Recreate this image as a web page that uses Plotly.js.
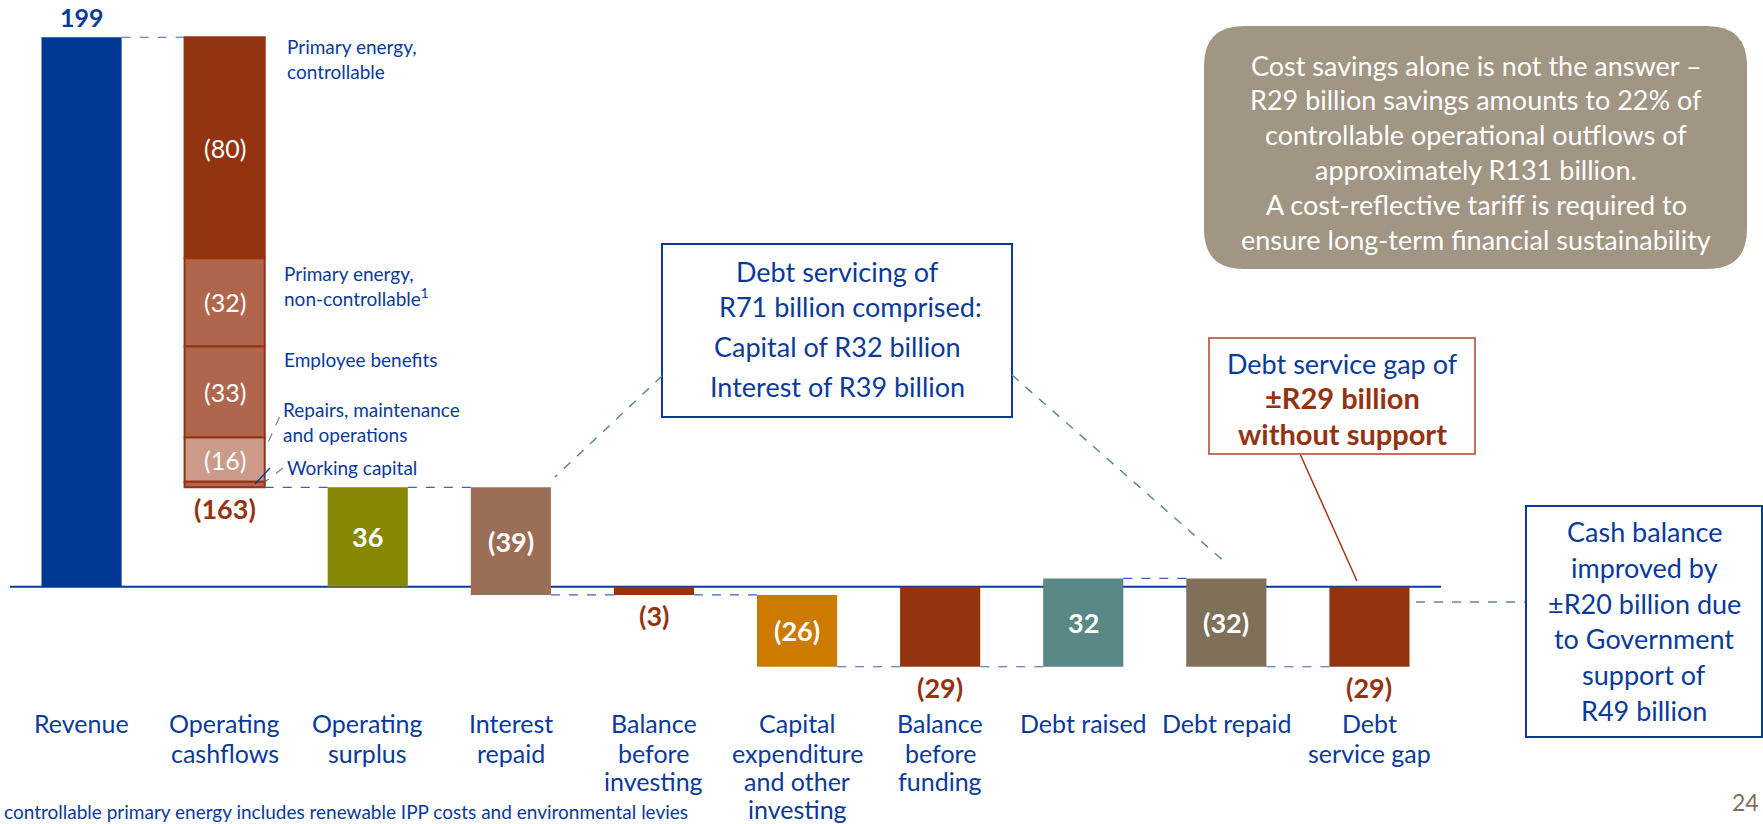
<!DOCTYPE html>
<html>
<head>
<meta charset="utf-8">
<script src="https://cdn.plot.ly/plotly-3.0.1.min.js"></script>
<style>
  html, body { margin: 0; padding: 0; background: #ffffff; }
  #chart { width: 1763px; height: 824px; }
</style>
</head>
<body>
<div id="chart"></div>
<script>
// ---------------- DATA ----------------
const categories = ['Revenue', 'Operating cashflows', 'Operating surplus', 'Interest repaid',
  'Balance before investing', 'Capital expenditure and other investing', 'Balance before funding',
  'Debt raised', 'Debt repaid', 'Debt service gap'];
const tickLabels = ['Revenue', 'Operating<br>cashflows', 'Operating<br>surplus', 'Interest<br>repaid',
  'Balance<br>before<br>investing', 'Capital<br>expenditure<br>and other<br>investing',
  'Balance<br>before<br>funding', 'Debt raised', 'Debt repaid', 'Debt<br>service gap'];
const measures = ['total', 'relative', 'total', 'relative', 'total', 'relative', 'total', 'relative', 'relative', 'total'];
const values = [199, -163, 36, -39, -3, -26, -29, 32, -32, -29];
const valueLabels = ['199', '(163)', '36', '(39)', '(3)', '(26)', '(29)', '32', '(32)', '(29)'];

const opCashComponentNames = ['Primary energy,<br>controllable', 'Primary energy,<br>non-controllable<sup>1</sup>',
  'Employee benefits', 'Repairs, maintenance<br>and operations', 'Working capital'];
const opCashComponents = [-80, -32, -33, -16, -2];
const opCashComponentLabels = ['(80)', '(32)', '(33)', '(16)', ''];

const calloutDebt = ['Debt servicing of', 'R71 billion comprised:', 'Capital of R32 billion', 'Interest of R39 billion'];
const calloutSavings = ['Cost savings alone is not the answer \u2013', 'R29 billion savings amounts to 22% of',
  'controllable operational outflows of', 'approximately R131 billion.', 'A cost-reflective tariff is required to',
  'ensure long-term financial sustainability'];
const calloutGap = ['Debt service gap of', '\u00b1R29 billion', 'without support'];
const calloutCash = ['Cash balance', 'improved by', '\u00b1R20 billion due', 'to Government', 'support of', 'R49 billion'];
const footnote = 'controllable primary energy includes renewable IPP costs and environmental levies';
const pageNumber = '24';

// ---------------- STYLE ----------------
const FONT = "Lato, 'Open Sans', sans-serif";
const BLUE_TXT = '#0B3A9A';
const DARKRED = '#94330F';
const barColors = ['#003893', DARKRED, '#868806', '#9B6E57', DARKRED, '#CC7A00', DARKRED, '#5A8886', '#80705A', DARKRED];
const compColors = [DARKRED, '#B0664D', '#B0664D', '#CB9A88', '#B0664D'];
const labelInside = [false, false, true, true, false, true, false, true, true, false];
const BARW = 0.56;

// plot-area geometry (pixels)
const L = 10, W = 1431, T = 0, H = 700;
const px2x = p => (p - L) / W;
const px2y = p => (T + H - p) / H;

// ---------------- WATERFALL GEOMETRY FROM DATA ----------------
const bases = [], heights = [], ends = [];
let running = 0;
values.forEach((v, i) => {
  if (measures[i] === 'total') { bases.push(0); heights.push(v); running = v; }
  else { bases.push(running); heights.push(v); running += v; }
  ends.push(running);
});

const traces = [];
traces.push({
  type: 'bar', x: categories,
  y: heights.map((h, i) => i === 1 ? null : h),
  base: bases.map((b, i) => i === 1 ? null : b),
  width: BARW, marker: { color: barColors, line: { width: 0 } },
  hoverinfo: 'skip', showlegend: false
});
let compRun = bases[1];
const compBases = [];
opCashComponents.forEach((c, k) => {
  compBases.push(compRun);
  traces.push({
    type: 'bar', x: [categories[1]], y: [c], base: [compRun], width: BARW,
    marker: { color: compColors[k], line: { color: DARKRED, width: 2 } },
    hoverinfo: 'skip', showlegend: false, name: opCashComponentNames[k]
  });
  compRun += c;
});

// ---------------- SHAPES ----------------
const shapes = [];
shapes.push({ type: 'line', xref: 'x', yref: 'y', x0: -0.5, x1: 9.5, y0: 0, y1: 0,
  line: { color: '#0B3A9A', width: 2 }, layer: 'below' });
for (let i = 0; i < values.length - 1; i++) {
  shapes.push({ type: 'line', xref: 'x', yref: 'y', x0: i + BARW / 2, x1: i + 1 - BARW / 2,
    y0: ends[i], y1: ends[i], line: { color: '#3862C2', width: 1.2, dash: 'dash' } });
}
function rectPx(x0, y0, x1, y1, color, width, fill) {
  return { type: 'rect', xref: 'paper', yref: 'paper', x0: px2x(x0), x1: px2x(x1), y0: px2y(y1), y1: px2y(y0),
    line: { color: color, width: width }, fillcolor: fill || 'rgba(0,0,0,0)' };
}
function linePx(x0, y0, x1, y1, color, width, dash) {
  return { type: 'line', xref: 'paper', yref: 'paper', x0: px2x(x0), x1: px2x(x1), y0: px2y(y0), y1: px2y(y1),
    line: { color: color, width: width, dash: dash || 'solid' } };
}
function roundRectPath(x0, y0, x1, y1, r) {
  const X = p => px2x(p).toFixed(5), Y = p => px2y(p).toFixed(5);
  return `M ${X(x0 + r)} ${Y(y0)} L ${X(x1 - r)} ${Y(y0)} Q ${X(x1)} ${Y(y0)} ${X(x1)} ${Y(y0 + r)} ` +
    `L ${X(x1)} ${Y(y1 - r)} Q ${X(x1)} ${Y(y1)} ${X(x1 - r)} ${Y(y1)} L ${X(x0 + r)} ${Y(y1)} ` +
    `Q ${X(x0)} ${Y(y1)} ${X(x0)} ${Y(y1 - r)} L ${X(x0)} ${Y(y0 + r)} Q ${X(x0)} ${Y(y0)} ${X(x0 + r)} ${Y(y0)} Z`;
}
shapes.push({ type: 'path', xref: 'paper', yref: 'paper', path: roundRectPath(1204, 26, 1747, 269, 40),
  fillcolor: '#A19583', line: { width: 0 } });
shapes.push(rectPx(662, 244, 1012, 417, '#0B3A9A', 2));
shapes.push(linePx(662, 376, 555, 477, '#5D8C85', 1.5, 'dash'));
shapes.push(linePx(1012, 375, 1226, 563, '#5D8C85', 1.5, 'dash'));
shapes.push(rectPx(1209, 338, 1475, 454, '#A8432A', 1.5));
shapes.push(linePx(1300.5, 455, 1357, 581, '#A0381A', 1.5));
shapes.push(rectPx(1526, 506, 1762, 737, '#0B3A9A', 2));
shapes.push(linePx(1416, 602, 1525, 602, '#5D8C85', 1.5, 'dash'));
shapes.push(linePx(279.5, 417, 266, 447, '#5D8C85', 1.2, 'dash'));
shapes.push(linePx(283, 468, 265, 482, '#5D8C85', 1.2, 'dash'));
shapes.push(linePx(270, 468, 255, 484, '#0B3A9A', 1.2));

// ---------------- ANNOTATIONS ----------------
const annotations = [];
function txtPx(text, x, y, size, color, opts) {
  return Object.assign({ text: text, xref: 'paper', yref: 'paper', x: px2x(x), y: px2y(y),
    xanchor: 'center', yanchor: 'middle', showarrow: false,
    font: { family: FONT, size: size, color: color } }, opts || {});
}
// category labels (one annotation per line, on the category axis)
const catLineY = [723, 752.5, 781.5, 809];
tickLabels.forEach((lab, i) => {
  lab.split('<br>').forEach((ln, j) => {
    annotations.push({ text: ln, x: categories[i], xref: 'x', yref: 'paper', y: px2y(catLineY[j]),
      xanchor: 'center', yanchor: 'middle', showarrow: false,
      font: { family: FONT, size: 25, color: BLUE_TXT } });
  });
});
// bar value labels
values.forEach((v, i) => {
  const base = { text: '<b>' + valueLabels[i] + '</b>', x: categories[i], xref: 'x', yref: 'y',
    showarrow: false, yanchor: 'middle' };
  if (labelInside[i]) {
    annotations.push(Object.assign(base, { y: bases[i] + heights[i] / 2,
      font: { family: FONT, size: 27, color: '#ffffff' } }));
  } else if (v > 0) {
    annotations.push(Object.assign(base, { y: ends[i], yshift: 20,
      font: { family: FONT, size: 25, color: BLUE_TXT } }));
  } else {
    annotations.push(Object.assign(base, { y: ends[i], yshift: -21,
      font: { family: FONT, size: 27, color: DARKRED } }));
  }
});
// component labels
opCashComponents.forEach((c, k) => {
  if (!opCashComponentLabels[k]) return;
  annotations.push({ text: opCashComponentLabels[k], x: categories[1], y: compBases[k] + c / 2,
    xref: 'x', yref: 'y', showarrow: false, yanchor: 'middle',
    font: { family: FONT, size: 25, color: '#ffffff' } });
});
// component side names: left x, vertical centre of the label block
const sidePos = [[285, 59], [282, 286], [282, 360], [281, 422], [285, 467]];
opCashComponentNames.forEach((nm, k) => {
  annotations.push(txtPx(nm, sidePos[k][0], sidePos[k][1], 19, BLUE_TXT, { xanchor: 'left', align: 'left' }));
});
// callouts
const debtX = [837, 851, 837, 837];
const debtY = [271.7, 306.7, 346.7, 386.7];
calloutDebt.forEach((ln, j) => annotations.push(txtPx(ln, debtX[j], debtY[j], 27, BLUE_TXT)));
calloutSavings.forEach((ln, j) => annotations.push(txtPx(ln, 1476, 65 + j * 34.8, 27, '#ffffff')));
calloutGap.forEach((ln, j) => annotations.push(txtPx(j === 0 ? ln : '<b>' + ln + '</b>', 1342, 363 + j * 35,
  j === 0 ? 27 : 29, j === 0 ? BLUE_TXT : DARKRED)));
calloutCash.forEach((ln, j) => annotations.push(txtPx(ln, 1644, 531.7 + j * 35.7, 27, BLUE_TXT)));
annotations.push(txtPx(footnote, 2, 811, 19, BLUE_TXT, { xanchor: 'left' }));
annotations.push(txtPx(pageNumber, 1761, 802, 23, '#7F7060', { xanchor: 'right' }));

// ---------------- LAYOUT ----------------
const layout = {
  width: 1763, height: 824,
  margin: { l: L, r: 1763 - L - W, t: T, b: 824 - T - H, pad: 0 },
  paper_bgcolor: '#ffffff', plot_bgcolor: '#ffffff',
  barmode: 'overlay', showlegend: false, hovermode: false,
  xaxis: { type: 'category', categoryorder: 'array', categoryarray: categories, range: [-0.5, 9.5],
    showticklabels: false, ticks: '', showgrid: false, zeroline: false, showline: false, fixedrange: true },
  yaxis: { range: [-41.05, 212.5], visible: false, showgrid: false, zeroline: false, fixedrange: true },
  shapes: shapes, annotations: annotations
};

Plotly.newPlot('chart', traces, layout, { displayModeBar: false, staticPlot: true });
</script>
</body>
</html>
